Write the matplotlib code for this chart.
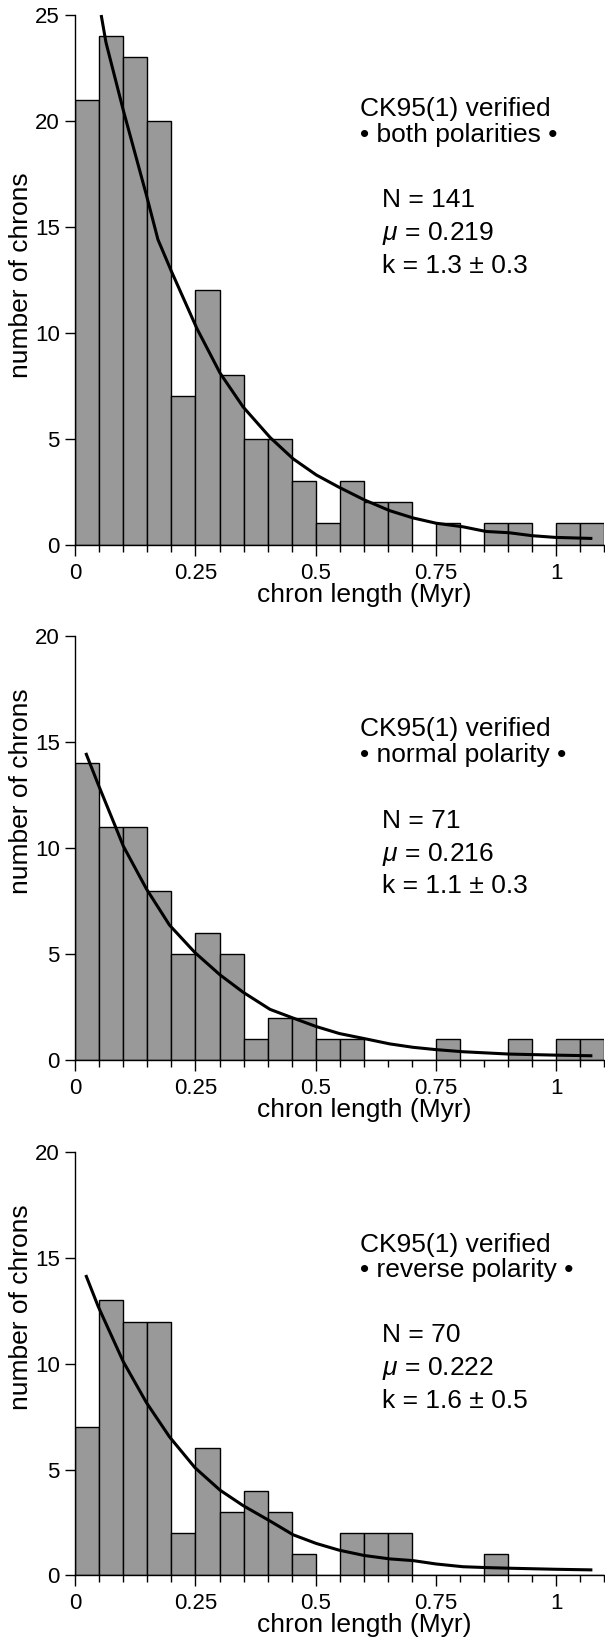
import matplotlib
matplotlib.use("Agg")
import matplotlib.pyplot as plt
import numpy as np

plt.rcParams['font.family'] = ['Liberation Sans', 'DejaVu Sans']
plt.rcParams['mathtext.fontset'] = 'custom'
plt.rcParams['mathtext.it'] = 'Liberation Sans:italic'
plt.rcParams['mathtext.rm'] = 'Liberation Sans'

# ---------------- data ----------------
bin_edges = [round(0.05 * i, 2) for i in range(23)]  # 0 .. 1.1, width 0.05

counts_both = [21, 24, 23, 20, 7, 12, 8, 5, 5, 3, 1, 3, 2, 2, 0, 1, 0, 1, 1, 0, 1, 1]
counts_normal = [14, 11, 11, 8, 5, 6, 5, 1, 2, 2, 1, 1, 0, 0, 0, 1, 0, 0, 1, 0, 1, 1]
counts_reverse = [7, 13, 12, 12, 2, 6, 3, 4, 3, 1, 0, 2, 2, 2, 0, 0, 0, 1, 0, 0, 0, 0]

curve_both_x = [0.054, 0.064, 0.100, 0.148, 0.172, 0.200, 0.253, 0.301, 0.349, 0.405, 0.453,
                0.501, 0.549, 0.601, 0.654, 0.702, 0.750, 0.806, 0.854, 0.902, 0.950, 0.998, 1.075]
curve_both_y = [25.0, 23.7, 20.5, 16.5, 14.4, 12.9, 10.2, 8.1, 6.5, 5.06, 4.05,
                3.29, 2.70, 2.11, 1.60, 1.26, 1.01, 0.84, 0.62, 0.56, 0.42, 0.34, 0.29]

curve_normal_x = [0.022, 0.048, 0.084, 0.100, 0.148, 0.196, 0.249, 0.301, 0.349, 0.405, 0.453,
                  0.501, 0.549, 0.601, 0.654, 0.702, 0.750, 0.806, 0.902, 0.998, 1.075]
curve_normal_y = [14.5, 13.0, 11.0, 10.1, 8.08, 6.37, 5.07, 4.02, 3.20, 2.39, 1.98,
                  1.58, 1.25, 1.01, 0.76, 0.60, 0.49, 0.39, 0.28, 0.23, 0.20]

curve_reverse_x = [0.022, 0.048, 0.100, 0.148, 0.196, 0.249, 0.301, 0.349, 0.405, 0.453,
                   0.501, 0.549, 0.601, 0.654, 0.702, 0.750, 0.806, 0.854, 0.902, 0.998, 1.075]
curve_reverse_y = [14.2, 12.7, 10.1, 8.17, 6.55, 5.09, 4.03, 3.30, 2.57, 1.92,
                   1.51, 1.19, 0.94, 0.78, 0.70, 0.54, 0.41, 0.37, 0.34, 0.29, 0.26]

titles = ["CK95(1) verified", "CK95(1) verified", "CK95(1) verified"]
subtitles = ["\u2022 both polarities \u2022", "\u2022 normal polarity \u2022", "\u2022 reverse polarity \u2022"]
n_labels = ["N = 141", "N = 71", "N = 70"]
mu_labels = ["$\\mu$ = 0.219", "$\\mu$ = 0.216", "$\\mu$ = 0.222"]
k_labels = ["k = 1.3 \u00b1 0.3", "k = 1.1 \u00b1 0.3", "k = 1.6 \u00b1 0.5"]

y_maxes = [25, 20, 20]
x_ticks = [0, 0.25, 0.5, 0.75, 1]
x_ticklabels = ["0", "0.25", "0.5", "0.75", "1"]
xlabel = "chron length (Myr)"
ylabel = "number of chrons"

# ---------------- layout (pixels) ----------------
W, H = 605, 1639
fig = plt.figure(figsize=(W / 100, H / 100), dpi=100)

left_px, right_px = 75.2, 604.4
panels_px = [(15.0, 544.6), (636.4, 1060.0), (1152.3, 1575.4)]  # (top, bottom)

# text baselines per panel (pixels from top)
text_pos = [
    dict(t=116.0, s=141.7, n=207.0, m=240.0, k=273.0),
    dict(t=736.0, s=761.7, n=827.7, m=860.5, k=893.5),
    dict(t=1251.7, s=1276.7, n=1341.7, m=1375.0, k=1408.0),
]

all_counts = [counts_both, counts_normal, counts_reverse]
all_cx = [curve_both_x, curve_normal_x, curve_reverse_x]
all_cy = [curve_both_y, curve_normal_y, curve_reverse_y]

label_fs = 19
tick_fs = 16
bar_color = '#999999'

for i in range(3):
    top, bot = panels_px[i]
    ax = fig.add_axes([left_px / W, 1 - bot / H, (right_px - left_px) / W, (bot - top) / H])
    edges = np.array(bin_edges)
    ax.bar(edges[:-1], all_counts[i], width=0.05, align='edge', color=bar_color,
           edgecolor='black', linewidth=1.0, zorder=2)
    ax.plot(all_cx[i], all_cy[i], color='black', lw=2.2, zorder=3,
            solid_capstyle='butt', clip_on=False)
    ax.set_xlim(0, 1.1)
    ax.set_ylim(0, y_maxes[i])
    for sp in ['top', 'right']:
        ax.spines[sp].set_visible(False)
    for sp in ['left', 'bottom']:
        ax.spines[sp].set_linewidth(1.0)
        ax.spines[sp].set_zorder(4)
    ax.set_xticks(x_ticks)
    ax.set_xticklabels(x_ticklabels)
    ax.set_xticks(np.array(bin_edges), minor=True)
    ax.set_yticks(np.arange(0, y_maxes[i] + 1, 5))
    ax.tick_params(axis='x', which='major', direction='out', length=8, width=1.0,
                   labelsize=tick_fs, pad=5)
    ax.tick_params(axis='x', which='minor', direction='out', length=5, width=1.0)
    ax.tick_params(axis='y', which='major', direction='out', length=7, width=1.0,
                   labelsize=tick_fs, pad=4)
    h_px = bot - top
    w_px = right_px - left_px
    ax.set_xlabel(xlabel, fontsize=label_fs)
    ax.xaxis.label.set_va('center')
    ax.xaxis.set_label_coords((364.6 - left_px) / w_px, -50.0 / h_px)
    ax.set_ylabel(ylabel, fontsize=label_fs)
    ax.yaxis.label.set_va('center')
    ax.yaxis.set_label_coords((21.0 - left_px) / w_px, 12.7 / y_maxes[i])

    tp = text_pos[i]
    fig.text(359.5 / W, 1 - tp['t'] / H, titles[i], fontsize=label_fs, va='baseline', ha='left')
    fig.text(359.5 / W, 1 - tp['s'] / H, subtitles[i], fontsize=label_fs, va='baseline', ha='left')
    fig.text(381.5 / W, 1 - tp['n'] / H, n_labels[i], fontsize=label_fs, va='baseline', ha='left')
    fig.text(381.5 / W, 1 - tp['m'] / H, mu_labels[i], fontsize=label_fs, va='baseline', ha='left')
    fig.text(381.5 / W, 1 - tp['k'] / H, k_labels[i], fontsize=label_fs, va='baseline', ha='left')

fig.savefig("out.png", dpi=100, facecolor='white')
